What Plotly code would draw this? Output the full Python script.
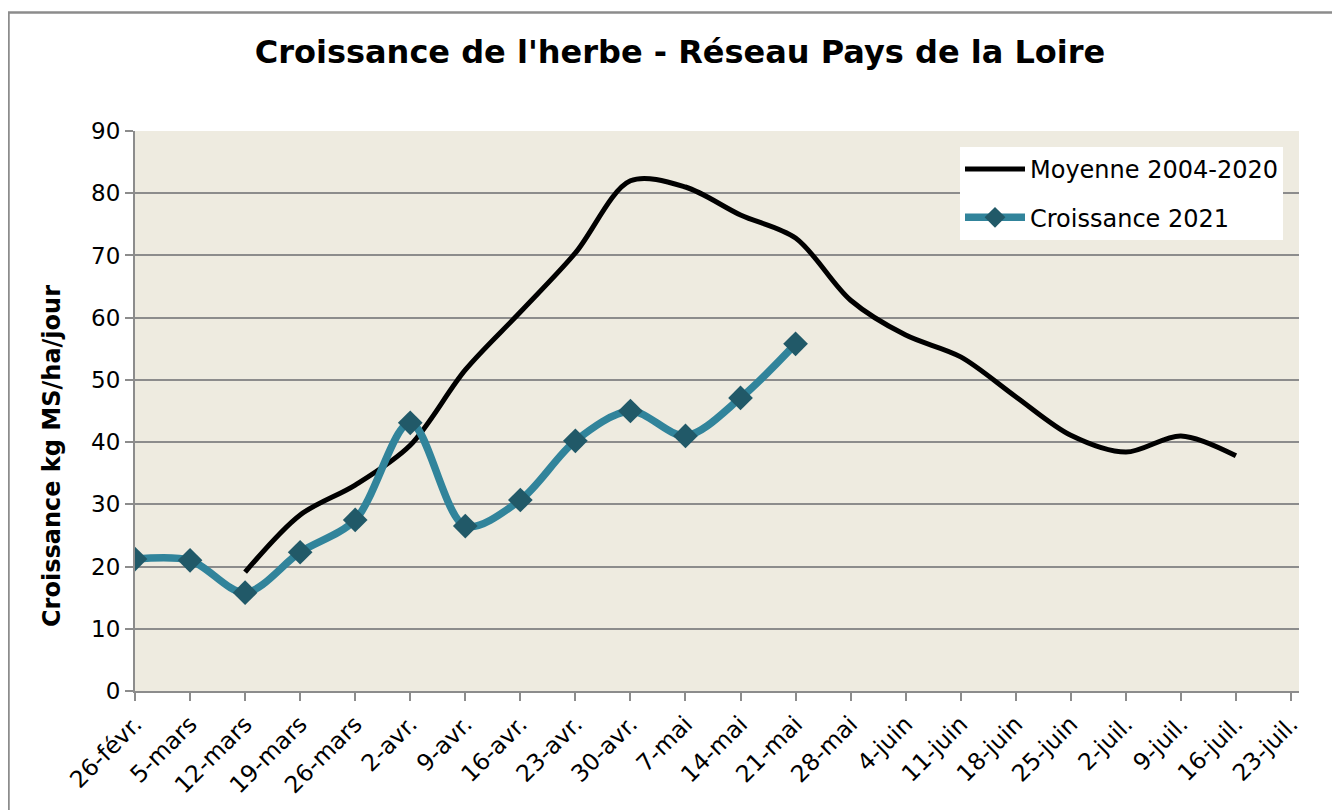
import plotly.graph_objects as go

categories = ["26-févr.", "5-mars", "12-mars", "19-mars", "26-mars", "2-avr.", "9-avr.",
              "16-avr.", "23-avr.", "30-avr.", "7-mai", "14-mai", "21-mai", "28-mai",
              "4-juin", "11-juin", "18-juin", "25-juin", "2-juil.", "9-juil.", "16-juil.", "23-juil."]

moyenne_2004_2020 = [None, None, 19.1, 28.3, 33.1, 39.5, 51.6, 60.9, 70.4, 82.0, 81.0, 76.5,
                     72.8, 62.8, 57.2, 53.7, 47.3, 41.1, 38.4, 41.0, 37.8, None]

croissance_2021 = [21.2, 21.0, 15.8, 22.3, 27.5, 43.1, 26.5, 30.7, 40.2, 45.0, 41.0, 47.1, 55.8,
                   None, None, None, None, None, None, None, None, None]

y_ticks = [0, 10, 20, 30, 40, 50, 60, 70, 80, 90]

FONT = "DejaVu Sans"
idx = list(range(len(categories)))

fig = go.Figure()
fig.add_trace(go.Scatter(
    x=idx, y=moyenne_2004_2020, mode="lines", name="Moyenne 2004-2020",
    line=dict(color="#000000", width=5, shape="spline", smoothing=0.9),
    connectgaps=False, legendgroup="a",
))
fig.add_trace(go.Scatter(
    x=idx, y=croissance_2021, mode="lines+markers", name="Croissance 2021",
    line=dict(color="#31849B", width=7.5, shape="spline", smoothing=0.9),
    marker=dict(symbol="diamond", size=19, color="#215968"),
    connectgaps=False, legendgroup="b",
))

# page has an 8px body margin; work in figure pixel coords (page - 8)
OFF = 8
W, H = 1340 - OFF, 810 - OFF
L, T = 135 - OFF, 131 - OFF
R = W - (1299 - OFF)
B = H - (691 - OFF)
pw, ph = W - L - R, H - T - B

def px(x):  # page x -> paper
    return (x - OFF - L) / pw

def py(y):  # page y -> paper
    return (H - B - (y - OFF)) / ph

fig.update_layout(
    width=W, height=H,
    margin=dict(l=L, r=R, t=T, b=B),
    paper_bgcolor="#FFFFFF",
    plot_bgcolor="#EEEBE0",
    font=dict(family=FONT, color="#000000"),
    title=dict(text="<b>Croissance de l'herbe - Réseau Pays de la Loire</b>",
               x=px(680), xanchor="center", xref="paper",
               y=1 - (52 - OFF) / H, yanchor="middle",
               font=dict(family=FONT, size=32, color="#000000")),
    showlegend=True,
    legend=dict(x=px(960), y=py(147), xanchor="left", yanchor="top",
                bgcolor="#FFFFFF", borderwidth=0,
                font=dict(family=FONT, size=24, color="#000000"),
                traceorder="grouped", tracegroupgap=14, itemwidth=60),
    shapes=[dict(type="rect", xref="paper", yref="paper",
                 x0=px(8.5), x1=px(1380), y0=py(850), y1=py(12.5),
                 line=dict(color="#8C8C8C", width=2.5), fillcolor="rgba(0,0,0,0)",
                 layer="below")],
    annotations=[dict(text="<b>Croissance kg MS/ha/jour</b>", textangle=-90,
                      xref="paper", yref="paper", x=px(52), y=py(456),
                      xanchor="center", yanchor="middle", showarrow=False,
                      font=dict(family=FONT, size=24, color="#000000"))],
)

fig.update_xaxes(
    range=[0, 21 + 8 / 55.05],
    tickmode="array", tickvals=idx, ticktext=categories,
    tickangle=-45, tickfont=dict(family=FONT, size=23.5, color="#000000"),
    showgrid=False, zeroline=False,
    showline=True, linecolor="#8C8C8C", linewidth=2,
    ticks="outside", ticklen=8, tickcolor="#8C8C8C", tickwidth=2,
)
fig.update_yaxes(
    range=[0, 90], tickmode="array", tickvals=y_ticks,
    tickfont=dict(family=FONT, size=23, color="#000000"),
    showgrid=True, gridcolor="#8C8C8C", gridwidth=2,
    zeroline=False,
    showline=True, linecolor="#8C8C8C", linewidth=2,
    ticks="outside", ticklen=8, tickcolor="#8C8C8C", tickwidth=2,
)

fig.write_html("out.html")
